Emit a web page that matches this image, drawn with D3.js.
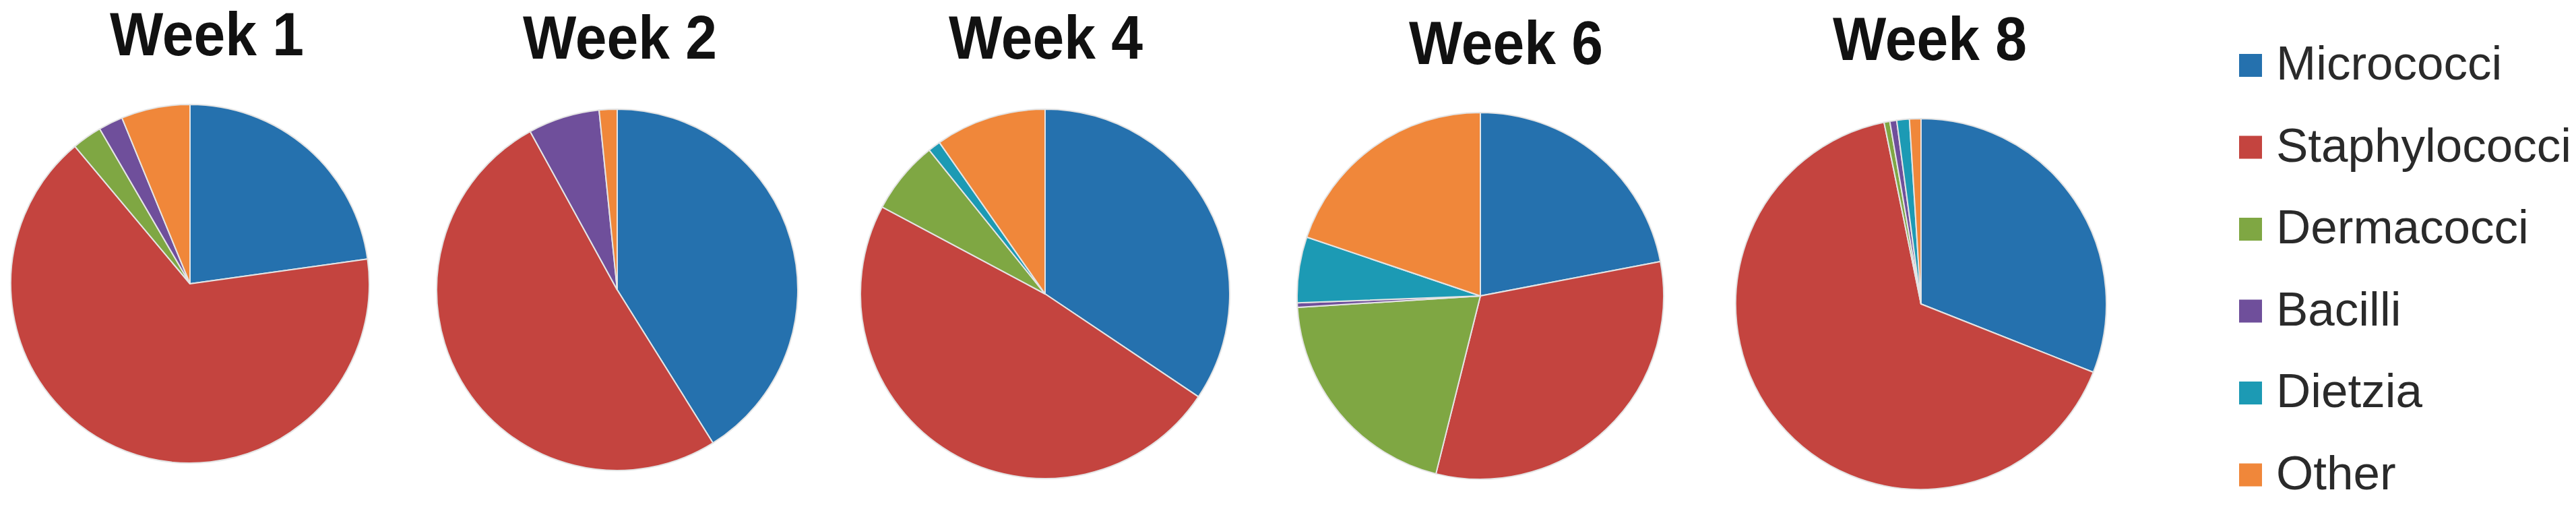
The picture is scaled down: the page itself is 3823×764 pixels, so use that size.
<!DOCTYPE html>
<html>
<head>
<meta charset="utf-8">
<script src="https://cdn.jsdelivr.net/npm/d3@7"></script>
<style>
  body { margin: 0; background: #fff; }
  svg { display: block; }
</style>
</head>
<body>
<div id="chart"></div>
<script>
// Chart data
var categories = ["Micrococci", "Staphylococci", "Dermacocci", "Bacilli", "Dietzia", "Other"];
var weeks = ["Week 1", "Week 2", "Week 4", "Week 6", "Week 8"];

// percentages per week, same order as categories
var week1 = [22.8, 66.1, 2.7, 2.2, 0, 6.2];
var week2 = [41.1, 50.9, 0, 6.4, 0, 1.6];
var week4 = [34.4, 48.4, 6.4, 0, 1.1, 9.7];
var week6 = [22.0, 31.9, 20.1, 0.4, 5.8, 19.8];
var week8 = [31.0, 65.8, 0.5, 0.6, 1.1, 1.0];
var series = [week1, week2, week4, week6, week8];

var colors = ["#2571ae", "#c4443f", "#7fa743", "#6f4f9b", "#1c9ab4", "#f0873a"];

// Layout (pixels)
var width = 3823;
var height = 764;
var pieCenters = [[282, 421], [916, 430], [1551, 436], [2197, 439], [2851, 451]];
var pieRadii = [266, 268, 274, 272, 275];
var titleX = [307, 920, 1552, 2235, 2864];
var titleY = [82, 87, 87, 95, 89];

var svg = d3.select("#chart")
  .append("svg")
  .attr("width", width)
  .attr("height", height);

var color = d3.scaleOrdinal()
  .domain(categories)
  .range(colors);

var pie = d3.pie()
  .sort(null)
  .value(function(d) { return d.value; });

// one group per week
weeks.forEach(function(week, i) {
  var rows = categories.map(function(c, j) {
    return { category: c, value: series[i][j] };
  });

  var arc = d3.arc()
    .innerRadius(0)
    .outerRadius(pieRadii[i]);

  var g = svg.append("g")
    .attr("transform", "translate(" + pieCenters[i][0] + "," + pieCenters[i][1] + ")");

  g.selectAll("path")
    .data(pie(rows).filter(function(d) { return d.data.value > 0; }))
    .enter()
    .append("path")
    .attr("d", arc)
    .style("fill", function(d) { return color(d.data.category); })
    .style("stroke", "#e4e4e4")
    .style("stroke-width", 2)
    .style("stroke-linejoin", "round");

  svg.append("text")
    .attr("x", titleX[i])
    .attr("y", titleY[i])
    .attr("text-anchor", "middle")
    .attr("textLength", 288)
    .attr("lengthAdjust", "spacingAndGlyphs")
    .style("font-family", "'Liberation Sans', Arial, sans-serif")
    .style("font-weight", "bold")
    .style("font-size", "90px")
    .style("fill", "#111")
    .text(week);
});

// Legend
var legend = svg.append("g")
  .attr("transform", "translate(3323,97)");

var item = legend.selectAll("g")
  .data(categories)
  .enter()
  .append("g")
  .attr("transform", function(d, i) { return "translate(0," + (i * 121.5) + ")"; });

item.append("rect")
  .attr("x", 0)
  .attr("y", -17)
  .attr("width", 34)
  .attr("height", 34)
  .style("fill", function(d) { return color(d); });

item.append("text")
  .attr("x", 55)
  .attr("y", 21)
  .style("font-family", "'Liberation Sans', Arial, sans-serif")
  .style("font-size", "71px")
  .style("fill", "#2a2a2a")
  .text(function(d) { return d; });
</script>
</body>
</html>
